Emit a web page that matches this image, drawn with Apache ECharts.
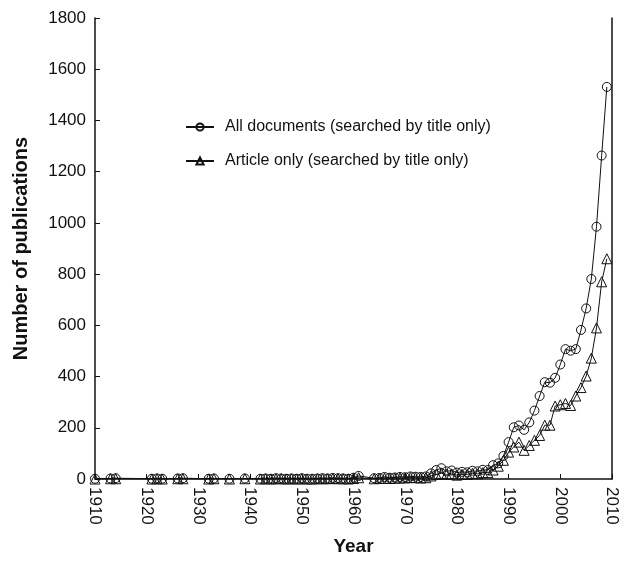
<!DOCTYPE html>
<html>
<head>
<meta charset="utf-8">
<script src="https://cdn.jsdelivr.net/npm/echarts@6/dist/echarts.min.js"></script>
<style>html,body{margin:0;padding:0;background:#fff}#c{width:625px;height:561px}</style>
</head>
<body>
<div id="c"></div>
<script>
const years = [1910,1913,1914,1921,1922,1923,1926,1927,1932,1933,1936,1939,1942,1943,1944,1945,1946,1947,1948,1949,1950,1951,1952,1953,1954,1955,1956,1957,1958,1959,1960,1961,
1964,1965,1966,1967,1968,1969,1970,1971,1972,1973,1974,1975,1976,1977,1978,1979,1980,1981,1982,1983,1984,1985,1986,1987,1988,1989,1990,1991,1992,1993,1994,1995,1996,1997,1998,1999,2000,2001,2002,2003,2004,2005,2006,2007,2008,2009];
const allDocs = [1,2,3,1,2,1,2,3,1,2,1,2,1,2,1,3,2,1,2,1,3,1,1,2,3,2,4,3,2,1,5,12,
3,4,8,5,6,8,7,10,9,8,10,22,35,42,30,33,25,28,26,32,30,36,35,54,61,90,144,202,209,192,221,267,324,378,376,395,447,507,501,507,582,666,781,985,1263,1531];
const articles = [0,1,1,0,1,0,1,1,0,1,0,1,0,1,0,1,1,0,1,0,1,0,0,1,1,1,2,1,1,0,2,5,
1,2,3,2,3,4,4,6,5,4,5,12,18,22,18,20,15,18,18,22,20,25,25,35,50,73,105,125,144,112,131,151,170,210,210,285,290,295,287,324,357,402,472,590,770,860];
const yTicks = [0,200,400,600,800,1000,1200,1400,1600,1800];

const pairs = (vals) => years.map((y,i)=>[y, vals[i]]);
const chart = echarts.init(document.getElementById('c'), null, {renderer:'canvas'});
const font = 'Liberation Sans, Arial, sans-serif';
chart.setOption({
  animation:false,
  backgroundColor:'#fff',
  grid:{left:95, right:13, top:18, bottom:77, containLabel:false},
  legend:{
    orient:'vertical', left:180, top:113, itemGap:16, itemWidth:28, itemHeight:9,
    textStyle:{fontFamily:font, fontSize:16, lineHeight:18, color:'#111', padding:[0,0,0,6]},
    data:['All documents (searched by title only)','Article only (searched by title only)']
  },
  xAxis:{
    type:'value', min:1910, max:2010, interval:10,
    name:'Year', nameLocation:'middle', nameGap:58,
    nameTextStyle:{fontFamily:font, fontSize:19, fontWeight:'bold', color:'#111'},
    axisLine:{show:true, lineStyle:{color:'#111', width:1.5}},
    axisTick:{show:true, inside:true, length:5, lineStyle:{color:'#111'}},
    axisLabel:{rotate:-90, fontFamily:font, fontSize:17, color:'#111', margin:8,
      formatter:(v)=>String(v)},
    splitLine:{show:false}
  },
  yAxis:[{
    type:'value', min:0, max:1800, interval:200,
    name:'Number of publications', nameLocation:'middle', nameGap:64,
    nameTextStyle:{fontFamily:font, fontSize:20, fontWeight:'bold', color:'#111'},
    axisLine:{show:true, lineStyle:{color:'#111', width:1.5}},
    axisTick:{show:true, inside:true, length:5, lineStyle:{color:'#111'}},
    axisLabel:{fontFamily:font, fontSize:17, color:'#111', margin:9,
      customValues: yTicks, formatter:(v)=>String(v)},
    splitLine:{show:false}
  },{
    type:'value', min:0, max:1800, position:'right',
    axisLine:{show:true, lineStyle:{color:'#111', width:1.5}},
    axisTick:{show:false}, axisLabel:{show:false}, splitLine:{show:false}
  }],
  series:[{
    name:'All documents (searched by title only)', type:'line', data:pairs(allDocs),
    symbol:'circle', symbolSize:9, showAllSymbol:true,
    lineStyle:{color:'#111', width:1},
    itemStyle:{color:'rgba(255,255,255,0)', borderColor:'#111', borderWidth:1}
  },{
    name:'Article only (searched by title only)', type:'line', data:pairs(articles),
    symbol:'triangle', symbolSize:10, showAllSymbol:true,
    lineStyle:{color:'#111', width:1},
    itemStyle:{color:'rgba(255,255,255,0)', borderColor:'#111', borderWidth:1}
  }]
});
</script>
</body>
</html>
